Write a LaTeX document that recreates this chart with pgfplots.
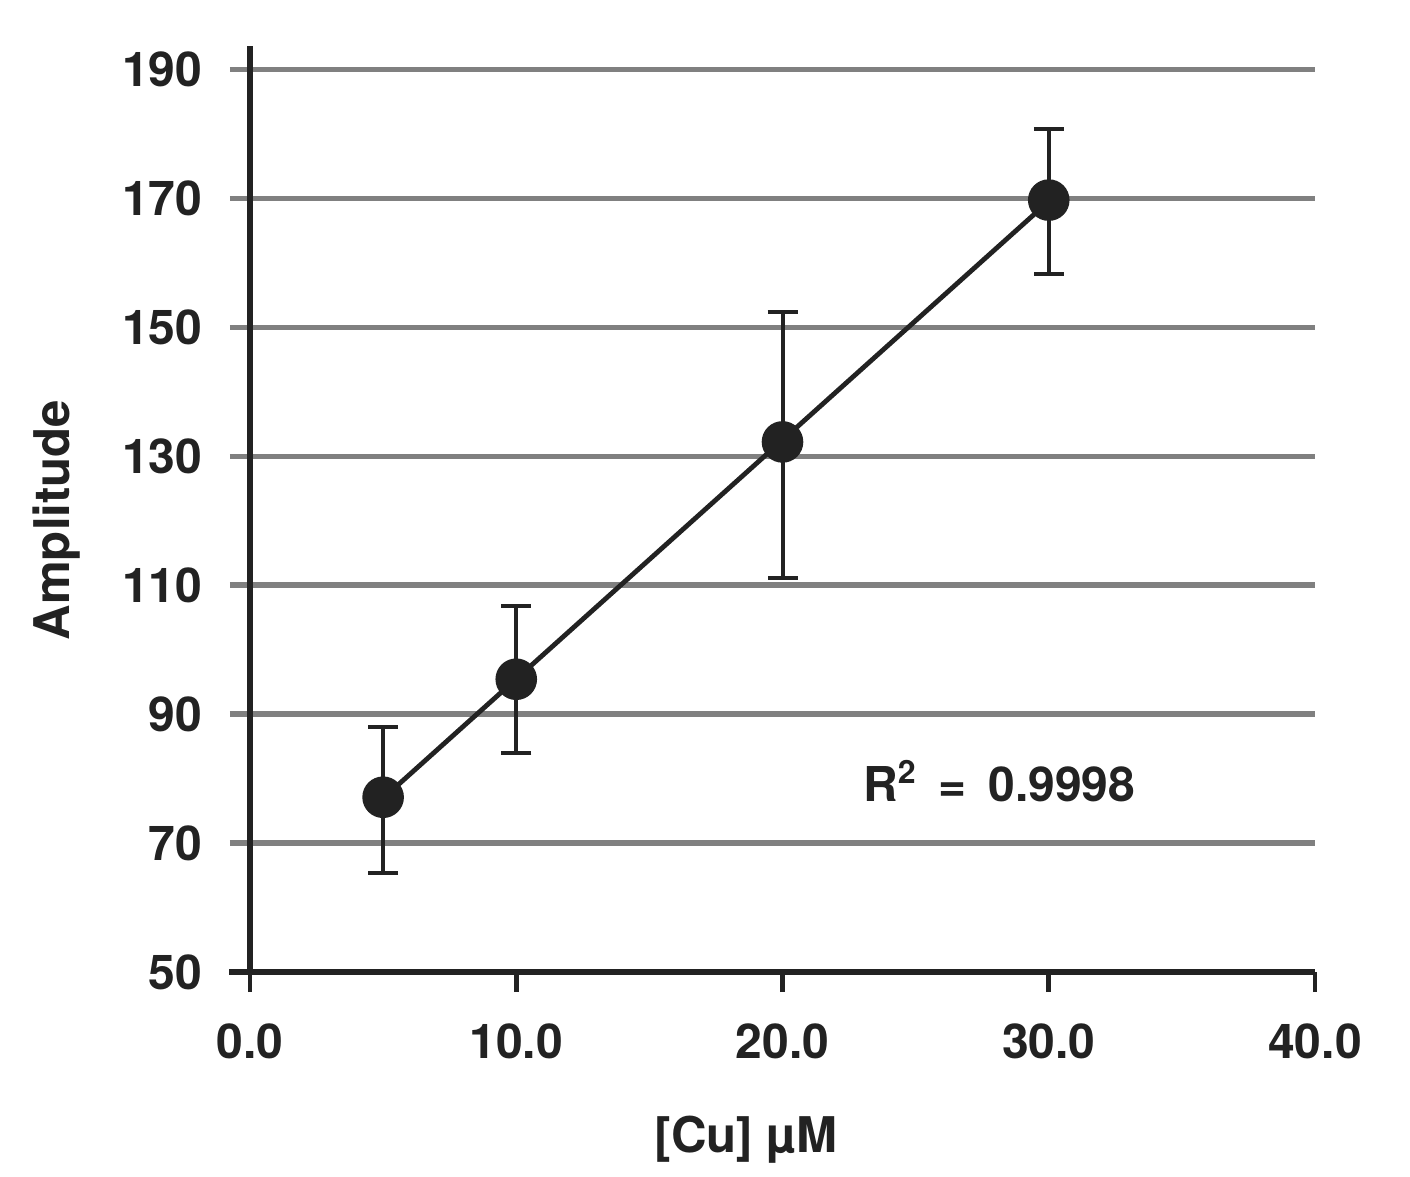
\documentclass[border=0pt]{standalone}
\usepackage{pgfplots}
\pgfplotsset{compat=1.18}
\usepackage{fontspec}
\setmainfont{TeX Gyre Heros}
\definecolor{ink}{HTML}{222222}
\definecolor{gridgray}{HTML}{808080}
\begin{document}
\begin{tikzpicture}
\path[use as bounding box] (-62.5pt,-51pt) rectangle (290pt,243pt);
\begin{axis}[
  at={(0pt,0pt)}, anchor=south west,
  scale only axis, width=266.25pt, height=231.5pt,
  xmin=0, xmax=40, ymin=50, ymax=193.6,
  axis lines*=left,
  axis line style={ink, line width=1.4pt},
  xtick={0,10,...,40}, ytick={50,70,...,190},
  ymajorgrids, major grid style={gridgray, line width=1.3pt},
  tick align=outside,
  major tick length=5pt,
  xtick style={ink, line width=1.2pt},
  ytick style={gridgray, line width=1.3pt},
  tick label style={font=\fontsize{12}{14}\selectfont\bfseries, text=ink},
  /pgf/number format/assume math mode=true,
  xticklabel style={/pgf/number format/fixed, /pgf/number format/fixed zerofill, /pgf/number format/precision=1, anchor=north, inner sep=0pt, yshift=-7.75pt},
  yticklabel style={anchor=east, inner sep=0pt, xshift=-6.75pt},
  label style={font=\fontsize{12.3}{14}\selectfont\bfseries, text=ink},
  xlabel={[Cu] µM}, ylabel={Amplitude},
  xlabel style={at={(axis description cs:0.466,-0.1814)}, anchor=center},
  ylabel style={at={(axis description cs:-0.1812,0.488)}, anchor=center},
  clip=false,
]
\addplot[ink, line width=1.2pt] coordinates {(5,76.94) (30,169.52)};
\addplot[ink, only marks, mark=*, mark size=5pt,
  error bars/.cd, y dir=both, y explicit,
  error bar style={line width=1pt, ink},
  error mark options={rotate=90, mark size=3.75pt, line width=1pt, ink}]
  coordinates {
  (5,77.1) += (0,10.9) -= (0,11.8)
  (10,95.4) += (0,11.3) -= (0,11.4)
  (20,132.2) += (0,20.1) -= (0,21.1)
  (30,169.7) += (0,11.0) -= (0,11.5)
  };
\draw[ink, line width=1.4pt] (axis cs:0,50) -- ([xshift=-5.25pt]axis cs:0,50);
\node[anchor=west, inner sep=0pt, font=\fontsize{12}{14}\selectfont\bfseries, text=ink] at (axis cs:23.0,79.6) {R\textsuperscript{2}\hspace{2pt} =\hspace{2pt} 0.9998};
\end{axis}
\end{tikzpicture}
\end{document}
